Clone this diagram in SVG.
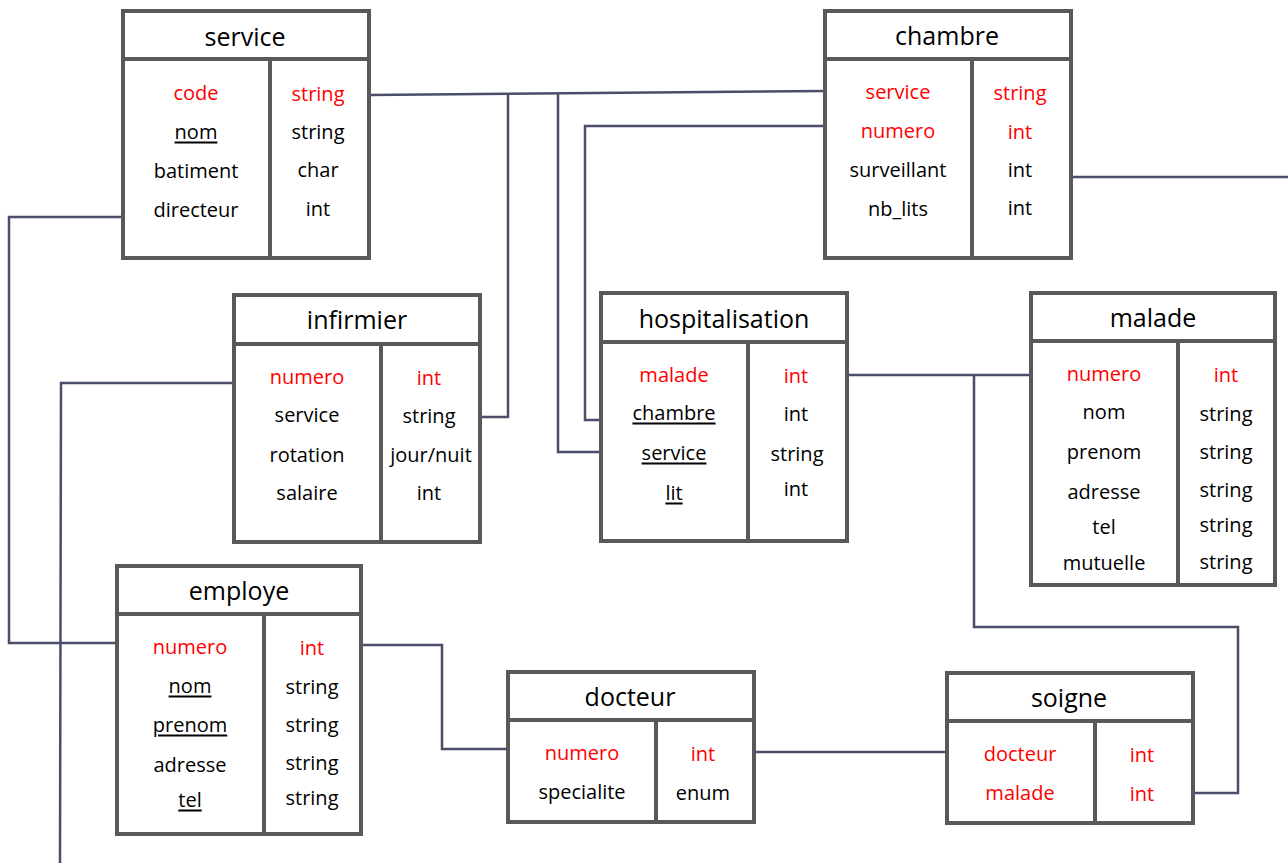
<svg xmlns="http://www.w3.org/2000/svg" width="1288" height="863" viewBox="0 0 1288 863">
<style>
.box{fill:#fff;stroke:#595959;stroke-width:4}
.sep{stroke:#595959;stroke-width:4}
.title{font-family:"Open Sans","Noto Sans",sans-serif;font-weight:500;font-size:25px;fill:#000;text-anchor:middle;dominant-baseline:central}
.f{font-family:"Open Sans","Noto Sans",sans-serif;font-weight:500;font-size:20px;fill:#000;text-anchor:middle;dominant-baseline:central}
.k{fill:#ff0000}
.u{text-decoration:underline}
.c{fill:none;stroke:#4a4e69;stroke-width:2.5}
</style>
<rect width="1288" height="863" fill="#fff"/>
<g id="connectors">
<polyline class="c" points="370,95 825,91"/>
<polyline class="c" points="508,94 508,417 480,417"/>
<polyline class="c" points="558,94 558,452 601,452"/>
<polyline class="c" points="825,126 585,126 585,420 601,420"/>
<polyline class="c" points="1071,177 1288,177"/>
<polyline class="c" points="123,217 9,217 9,643 117,643"/>
<polyline class="c" points="234,383 61,383 60,863"/>
<polyline class="c" points="361,645 442,645 442,749 508,749"/>
<polyline class="c" points="754,752 947,752"/>
<polyline class="c" points="847,375 1031,375"/>
<polyline class="c" points="974,375 974,627 1238,627 1238,793 1193,793"/>
</g>
<g id="service">
<rect class="box" x="123" y="11" width="246" height="247"/>
<line class="sep" x1="123" y1="59" x2="369" y2="59"/>
<line class="sep" x1="270" y1="59" x2="270" y2="258"/>
<text class="title" x="245" y="36">service</text>
<text class="f k" x="196" y="92">code</text>
<text class="f u" x="196" y="131">nom</text>
<text class="f" x="196" y="170">batiment</text>
<text class="f" x="196" y="209">directeur</text>
<text class="f k" x="318" y="93">string</text>
<text class="f" x="318" y="131">string</text>
<text class="f" x="318" y="169">char</text>
<text class="f" x="318" y="208">int</text>
</g>
<g id="chambre">
<rect class="box" x="825" y="11" width="246" height="247"/>
<line class="sep" x1="825" y1="59" x2="1071" y2="59"/>
<line class="sep" x1="972" y1="59" x2="972" y2="258"/>
<text class="title" x="947" y="35">chambre</text>
<text class="f k" x="898" y="91">service</text>
<text class="f k" x="898" y="130">numero</text>
<text class="f" x="898" y="169">surveillant</text>
<text class="f" x="898" y="208">nb_lits</text>
<text class="f k" x="1020" y="92">string</text>
<text class="f k" x="1020" y="131">int</text>
<text class="f" x="1020" y="169">int</text>
<text class="f" x="1020" y="207">int</text>
</g>
<g id="infirmier">
<rect class="box" x="234" y="295" width="246" height="247"/>
<line class="sep" x1="234" y1="344" x2="480" y2="344"/>
<line class="sep" x1="381" y1="344" x2="381" y2="542"/>
<text class="title" x="357" y="319">infirmier</text>
<text class="f k" x="307" y="376">numero</text>
<text class="f" x="307" y="414">service</text>
<text class="f" x="307" y="454">rotation</text>
<text class="f" x="307" y="492">salaire</text>
<text class="f k" x="429" y="377">int</text>
<text class="f" x="429" y="415">string</text>
<text class="f" x="431" y="454">jour/nuit</text>
<text class="f" x="429" y="492">int</text>
</g>
<g id="hospitalisation">
<rect class="box" x="601" y="293" width="246" height="248"/>
<line class="sep" x1="601" y1="342" x2="847" y2="342"/>
<line class="sep" x1="748" y1="342" x2="748" y2="541"/>
<text class="title" x="724" y="318">hospitalisation</text>
<text class="f k" x="674" y="374">malade</text>
<text class="f u" x="674" y="412">chambre</text>
<text class="f u" x="674" y="452">service</text>
<text class="f u" x="674" y="492">lit</text>
<text class="f k" x="796" y="375">int</text>
<text class="f" x="796" y="413">int</text>
<text class="f" x="797" y="453">string</text>
<text class="f" x="796" y="488">int</text>
</g>
<g id="malade">
<rect class="box" x="1031" y="293" width="244" height="292"/>
<line class="sep" x1="1031" y1="341" x2="1275" y2="341"/>
<line class="sep" x1="1178" y1="341" x2="1178" y2="585"/>
<text class="title" x="1153" y="317">malade</text>
<text class="f k" x="1104" y="373">numero</text>
<text class="f" x="1104" y="411">nom</text>
<text class="f" x="1104" y="451">prenom</text>
<text class="f" x="1104" y="491">adresse</text>
<text class="f" x="1104" y="526">tel</text>
<text class="f" x="1104" y="562">mutuelle</text>
<text class="f k" x="1226" y="374">int</text>
<text class="f" x="1226" y="413">string</text>
<text class="f" x="1226" y="451">string</text>
<text class="f" x="1226" y="489">string</text>
<text class="f" x="1226" y="524">string</text>
<text class="f" x="1226" y="561">string</text>
</g>
<g id="employe">
<rect class="box" x="117" y="566" width="244" height="268"/>
<line class="sep" x1="117" y1="614" x2="361" y2="614"/>
<line class="sep" x1="264" y1="614" x2="264" y2="834"/>
<text class="title" x="239" y="590">employe</text>
<text class="f k" x="190" y="646">numero</text>
<text class="f u" x="190" y="685">nom</text>
<text class="f u" x="190" y="724">prenom</text>
<text class="f" x="190" y="764">adresse</text>
<text class="f u" x="190" y="799">tel</text>
<text class="f k" x="312" y="647">int</text>
<text class="f" x="312" y="686">string</text>
<text class="f" x="312" y="724">string</text>
<text class="f" x="312" y="762">string</text>
<text class="f" x="312" y="797">string</text>
</g>
<g id="docteur">
<rect class="box" x="508" y="672" width="246" height="150"/>
<line class="sep" x1="508" y1="720" x2="754" y2="720"/>
<line class="sep" x1="656" y1="720" x2="656" y2="822"/>
<text class="title" x="630" y="696">docteur</text>
<text class="f k" x="582" y="752">numero</text>
<text class="f" x="582" y="791">specialite</text>
<text class="f k" x="703" y="753">int</text>
<text class="f" x="703" y="792">enum</text>
</g>
<g id="soigne">
<rect class="box" x="947" y="673" width="246" height="150"/>
<line class="sep" x1="947" y1="721" x2="1193" y2="721"/>
<line class="sep" x1="1095" y1="721" x2="1095" y2="823"/>
<text class="title" x="1069" y="697">soigne</text>
<text class="f k" x="1020" y="753">docteur</text>
<text class="f k" x="1020" y="792">malade</text>
<text class="f k" x="1142" y="754">int</text>
<text class="f k" x="1142" y="793">int</text>
</g>
</svg>
